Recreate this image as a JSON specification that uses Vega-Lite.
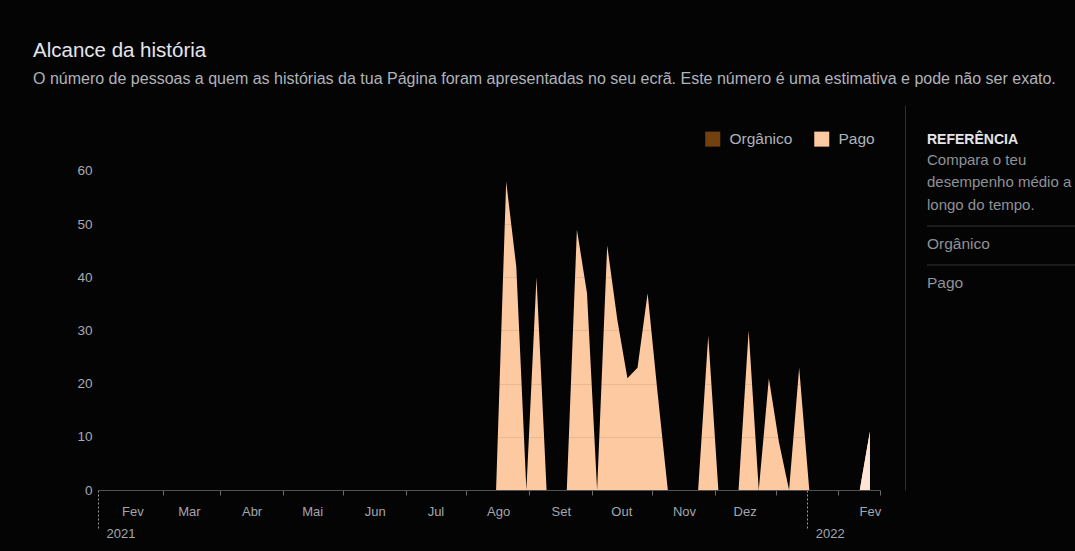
{
  "$schema": "https://vega.github.io/schema/vega-lite/v6.json",
  "background": "#040405",
  "padding": {"left": 33, "top": 40, "right": 0, "bottom": 0},
  "title": {
    "text": "Alcance da história",
    "subtitle": "O número de pessoas a quem as histórias da tua Página foram apresentadas no seu ecrã. Este número é uma estimativa e pode não ser exato.",
    "anchor": "start",
    "frame": "group",
    "dx": -65,
    "offset": 18,
    "fontSize": 20.5,
    "fontWeight": "normal",
    "color": "#e4e6eb",
    "subtitleFontSize": 16,
    "subtitleColor": "#b0b3b8",
    "subtitlePadding": 10
  },
  "spacing": 21,
  "hconcat": [
    {
      "width": 782,
      "height": 385,
      "data": {
        "values": [
          {"data": "2021-01-17T00:00:00", "Orgânico": 0, "Pago": 0},
          {"data": "2021-01-22T00:00:00", "Orgânico": 0, "Pago": 0},
          {"data": "2021-01-27T00:00:00", "Orgânico": 0, "Pago": 0},
          {"data": "2021-02-01T00:00:00", "Orgânico": 0, "Pago": 0},
          {"data": "2021-02-06T00:00:00", "Orgânico": 0, "Pago": 0},
          {"data": "2021-02-11T00:00:00", "Orgânico": 0, "Pago": 0},
          {"data": "2021-02-16T00:00:00", "Orgânico": 0, "Pago": 0},
          {"data": "2021-02-21T00:00:00", "Orgânico": 0, "Pago": 0},
          {"data": "2021-02-26T00:00:00", "Orgânico": 0, "Pago": 0},
          {"data": "2021-03-03T00:00:00", "Orgânico": 0, "Pago": 0},
          {"data": "2021-03-08T00:00:00", "Orgânico": 0, "Pago": 0},
          {"data": "2021-03-13T00:00:00", "Orgânico": 0, "Pago": 0},
          {"data": "2021-03-18T00:00:00", "Orgânico": 0, "Pago": 0},
          {"data": "2021-03-23T00:00:00", "Orgânico": 0, "Pago": 0},
          {"data": "2021-03-28T00:00:00", "Orgânico": 0, "Pago": 0},
          {"data": "2021-04-02T00:00:00", "Orgânico": 0, "Pago": 0},
          {"data": "2021-04-07T00:00:00", "Orgânico": 0, "Pago": 0},
          {"data": "2021-04-12T00:00:00", "Orgânico": 0, "Pago": 0},
          {"data": "2021-04-17T00:00:00", "Orgânico": 0, "Pago": 0},
          {"data": "2021-04-22T00:00:00", "Orgânico": 0, "Pago": 0},
          {"data": "2021-04-27T00:00:00", "Orgânico": 0, "Pago": 0},
          {"data": "2021-05-02T00:00:00", "Orgânico": 0, "Pago": 0},
          {"data": "2021-05-07T00:00:00", "Orgânico": 0, "Pago": 0},
          {"data": "2021-05-12T00:00:00", "Orgânico": 0, "Pago": 0},
          {"data": "2021-05-17T00:00:00", "Orgânico": 0, "Pago": 0},
          {"data": "2021-05-22T00:00:00", "Orgânico": 0, "Pago": 0},
          {"data": "2021-05-27T00:00:00", "Orgânico": 0, "Pago": 0},
          {"data": "2021-06-01T00:00:00", "Orgânico": 0, "Pago": 0},
          {"data": "2021-06-06T00:00:00", "Orgânico": 0, "Pago": 0},
          {"data": "2021-06-11T00:00:00", "Orgânico": 0, "Pago": 0},
          {"data": "2021-06-16T00:00:00", "Orgânico": 0, "Pago": 0},
          {"data": "2021-06-21T00:00:00", "Orgânico": 0, "Pago": 0},
          {"data": "2021-06-26T00:00:00", "Orgânico": 0, "Pago": 0},
          {"data": "2021-07-01T00:00:00", "Orgânico": 0, "Pago": 0},
          {"data": "2021-07-06T00:00:00", "Orgânico": 0, "Pago": 0},
          {"data": "2021-07-11T00:00:00", "Orgânico": 0, "Pago": 0},
          {"data": "2021-07-16T00:00:00", "Orgânico": 0, "Pago": 0},
          {"data": "2021-07-21T00:00:00", "Orgânico": 0, "Pago": 0},
          {"data": "2021-07-26T00:00:00", "Orgânico": 0, "Pago": 0},
          {"data": "2021-07-31T00:00:00", "Orgânico": 0, "Pago": 0},
          {"data": "2021-08-05T00:00:00", "Orgânico": 0, "Pago": 58},
          {"data": "2021-08-10T00:00:00", "Orgânico": 0, "Pago": 42},
          {"data": "2021-08-15T00:00:00", "Orgânico": 0, "Pago": 0},
          {"data": "2021-08-20T00:00:00", "Orgânico": 0, "Pago": 40},
          {"data": "2021-08-25T00:00:00", "Orgânico": 0, "Pago": 0},
          {"data": "2021-08-30T00:00:00", "Orgânico": 0, "Pago": 0},
          {"data": "2021-09-04T00:00:00", "Orgânico": 0, "Pago": 0},
          {"data": "2021-09-09T00:00:00", "Orgânico": 0, "Pago": 49},
          {"data": "2021-09-14T00:00:00", "Orgânico": 0, "Pago": 37},
          {"data": "2021-09-19T00:00:00", "Orgânico": 0, "Pago": 0},
          {"data": "2021-09-24T00:00:00", "Orgânico": 0, "Pago": 46},
          {"data": "2021-09-29T00:00:00", "Orgânico": 0, "Pago": 32},
          {"data": "2021-10-04T00:00:00", "Orgânico": 0, "Pago": 21},
          {"data": "2021-10-09T00:00:00", "Orgânico": 0, "Pago": 23},
          {"data": "2021-10-14T00:00:00", "Orgânico": 0, "Pago": 37},
          {"data": "2021-10-19T00:00:00", "Orgânico": 0, "Pago": 18},
          {"data": "2021-10-24T00:00:00", "Orgânico": 0, "Pago": 0},
          {"data": "2021-10-29T00:00:00", "Orgânico": 0, "Pago": 0},
          {"data": "2021-11-03T00:00:00", "Orgânico": 0, "Pago": 0},
          {"data": "2021-11-08T00:00:00", "Orgânico": 0, "Pago": 0},
          {"data": "2021-11-13T00:00:00", "Orgânico": 0, "Pago": 29},
          {"data": "2021-11-18T00:00:00", "Orgânico": 0, "Pago": 0},
          {"data": "2021-11-23T00:00:00", "Orgânico": 0, "Pago": 0},
          {"data": "2021-11-28T00:00:00", "Orgânico": 0, "Pago": 0},
          {"data": "2021-12-03T00:00:00", "Orgânico": 0, "Pago": 30},
          {"data": "2021-12-08T00:00:00", "Orgânico": 0, "Pago": 0},
          {"data": "2021-12-13T00:00:00", "Orgânico": 0, "Pago": 21},
          {"data": "2021-12-18T00:00:00", "Orgânico": 0, "Pago": 9},
          {"data": "2021-12-23T00:00:00", "Orgânico": 0, "Pago": 0},
          {"data": "2021-12-28T00:00:00", "Orgânico": 0, "Pago": 23},
          {"data": "2022-01-02T00:00:00", "Orgânico": 0, "Pago": 0},
          {"data": "2022-01-07T00:00:00", "Orgânico": 0, "Pago": 0},
          {"data": "2022-01-12T00:00:00", "Orgânico": 0, "Pago": 0},
          {"data": "2022-01-17T00:00:00", "Orgânico": 0, "Pago": 0},
          {"data": "2022-01-22T00:00:00", "Orgânico": 0, "Pago": 0},
          {"data": "2022-01-27T00:00:00", "Orgânico": 0, "Pago": 0},
          {"data": "2022-02-01T00:00:00", "Orgânico": 0, "Pago": 11}
        ]
      },
      "layer": [
        {
          "transform": [{"fold": ["Orgânico", "Pago"], "as": ["tipo", "alcance"]}],
          "mark": {"type": "area", "interpolate": "linear"},
          "encoding": {
            "x": {
              "field": "data",
              "type": "temporal",
              "scale": {"domain": [{"year": 2021, "month": 1, "date": 15}, {"year": 2022, "month": 2, "date": 6}]},
              "axis": {
                "orient": "bottom",
                "title": null,
                "values": [
                  {"year": 2021, "month": 2, "date": 1},
                  {"year": 2021, "month": 3, "date": 1},
                  {"year": 2021, "month": 4, "date": 1},
                  {"year": 2021, "month": 5, "date": 1},
                  {"year": 2021, "month": 6, "date": 1},
                  {"year": 2021, "month": 7, "date": 1},
                  {"year": 2021, "month": 8, "date": 1},
                  {"year": 2021, "month": 9, "date": 1},
                  {"year": 2021, "month": 10, "date": 1},
                  {"year": 2021, "month": 11, "date": 1},
                  {"year": 2021, "month": 12, "date": 1},
                  {"year": 2022, "month": 1, "date": 1},
                  {"year": 2022, "month": 2, "date": 1}
                ],
                "labelExpr": "month(datum.value) == 0 ? '' : ['Jan','Fev','Mar','Abr','Mai','Jun','Jul','Ago','Set','Out','Nov','Dez'][month(datum.value)]",
                "tickOffset": 31,
                "labelOffset": -31,
                "tickSize": 5,
                "tickColor": "#6b6b6b",
                "tickOpacity": {"condition": {"test": "year(datum.value) == 2022 && month(datum.value) == 1", "value": 0}, "value": 1},
                "domain": true,
                "domainColor": "#505050",
                "grid": false,
                "labelFontSize": 13,
                "labelColor": "#a3a6ab",
                "labelPadding": 10,
                "labelBaseline": "top",
                "labelFlush": false,
                "labelOverlap": false,
                "zindex": 1
              }
            },
            "y": {
              "field": "alcance",
              "type": "quantitative",
              "stack": "zero",
              "scale": {"domain": [0, 72.41], "nice": false},
              "axis": {
                "orient": "left",
                "title": null,
                "values": [0, 10, 20, 30, 40, 50, 60],
                "domain": false,
                "ticks": false,
                "grid": true,
                "gridColor": "#000000",
                "gridOpacity": 0.08,
                "labels": true,
                "labelFontSize": 13.5,
                "labelColor": "#a8abb0",
                "labelPadding": 6,
                "zindex": 1
              }
            },
            "color": {
              "field": "tipo",
              "type": "nominal",
              "scale": {"domain": ["Orgânico", "Pago"], "range": ["#73400f", "#fdc9a0"]},
              "legend": {
                "orient": "none",
                "legendX": 607,
                "legendY": 26,
                "direction": "horizontal",
                "title": null,
                "symbolType": "square",
                "symbolSize": 225,
                "symbolStrokeWidth": 0,
                "labelFontSize": 15.5,
                "labelColor": "#b0b3b8",
                "labelOffset": 9,
                "columnPadding": 21,
                "padding": 0,
                "encode": {"symbols": {"update": {"fill": {"signal": "datum.value === 'Pago' ? '#dc7214' : '#73400f'"}, "opacity": {"value": 1}}}}
              }
            }
          }
        },
        {
          "transform": [{"filter": {"field": "data", "gte": {"year": 2022, "month": 1, "date": 27}}}],
          "mark": {"type": "area", "interpolate": "linear", "color": "#fde6d5"},
          "encoding": {
            "x": {
              "field": "data",
              "type": "temporal",
              "axis": {
                "orient": "bottom",
                "title": null,
                "values": [
                  {"year": 2021, "month": 1, "date": 15},
                  {"year": 2022, "month": 1, "date": 1},
                  {"year": 2022, "month": 2, "date": 6}
                ],
                "labelExpr": "month(datum.value) == 1 ? '' : '' + year(datum.value)",
                "domain": false,
                "grid": false,
                "tickSize": {"condition": {"test": "month(datum.value) == 1", "value": 5}, "value": 38},
                "tickDash": {"condition": {"test": "month(datum.value) == 1", "value": []}, "value": [2, 2]},
                "tickColor": {"condition": {"test": "month(datum.value) == 1", "value": "#6b6b6b"}, "value": "#9a9a9a"},
                "labelAlign": "left",
                "labelOffset": 8,
                "labelPadding": -1,
                "labelBaseline": "top",
                "labelFontSize": 13,
                "labelColor": "#a3a6ab",
                "labelFlush": false,
                "labelOverlap": false
              }
            },
            "y": {
              "field": "Pago",
              "type": "quantitative",
              "scale": {"domain": [0, 72.41], "nice": false},
              "axis": {
                "orient": "right",
                "offset": 25,
                "title": null,
                "domain": true,
                "domainColor": "#2e2f32",
                "ticks": false,
                "labels": false,
                "grid": false
              }
            }
          }
        }
      ],
      "resolve": {"axis": {"x": "independent", "y": "independent"}, "scale": {"x": "shared", "y": "shared"}}
    },
    {
      "width": 148,
      "height": 446,
      "title": {
        "text": "REFERÊNCIA",
        "subtitle": ["Compara o teu", "desempenho médio a", "longo do tempo."],
        "anchor": "start",
        "frame": "group",
        "orient": "top",
        "offset": -108,
        "fontSize": 14,
        "fontWeight": "bold",
        "color": "#e4e6eb",
        "subtitleFontSize": 15,
        "subtitleColor": "#8f9297",
        "subtitlePadding": 5.6,
        "subtitleLineHeight": 22.6
      },
      "data": {"values": [{"item": "Orgânico"}, {"item": "Pago"}]},
      "layer": [
        {
          "mark": {"type": "rule", "color": "#333436", "strokeWidth": 1},
          "encoding": {
            "y": {
              "field": "item",
              "type": "nominal",
              "bandPosition": 0,
              "scale": {"type": "band", "paddingInner": 0, "paddingOuter": 0, "range": [121, 199]},
              "axis": null
            }
          }
        },
        {
          "mark": {"type": "text", "align": "left", "baseline": "middle", "fontSize": 15.5, "color": "#8f9297", "dy": -2},
          "encoding": {
            "x": {"datum": 0, "type": "quantitative", "scale": {"domain": [0, 1]}, "axis": null},
            "y": {
              "field": "item",
              "type": "nominal",
              "bandPosition": 0.5,
              "scale": {"type": "band", "paddingInner": 0, "paddingOuter": 0, "range": [121, 199]},
              "axis": null
            },
            "text": {"field": "item"}
          }
        }
      ]
    }
  ],
  "config": {
    "font": "Liberation Sans",
    "view": {"stroke": null}
  }
}
